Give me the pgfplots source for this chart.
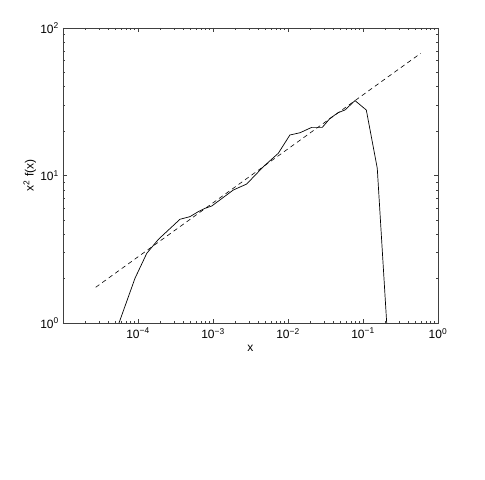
\documentclass[border=0pt]{standalone}
\usepackage{fontspec}
\setmainfont{Liberation Sans}
\usepackage{pgfplots}
\pgfplotsset{compat=1.18}
\begin{document}
\fontsize{12bp}{14bp}\selectfont
\begin{tikzpicture}
\begin{loglogaxis}[
  scale only axis,
  width=375bp, height=295bp,
  at={(0,0)}, anchor=south west,
  xmin=1e-5, xmax=1,
  ymin=1, ymax=100,
  axis line style={black!75, line width=0.6pt},
  every tick/.style={black!75, line width=0.5pt},
  major tick length=4.5bp, minor tick length=2.5bp,
  tick align=inside,
  xtick={1e-5,1e-4,1e-3,1e-2,1e-1,1},
  xticklabels={{},{10\textsuperscript{−4}},{10\textsuperscript{−3}},{10\textsuperscript{−2}},{10\textsuperscript{−1}},{10\textsuperscript{0}}},
  ytick={1,10,100},
  yticklabels={{10\textsuperscript{0}},{10\textsuperscript{1}},{10\textsuperscript{2}}},
  ticklabel style={font=\fontsize{12bp}{14bp}\selectfont},
  xticklabel style={yshift=-1bp},
  yticklabel style={xshift=0bp},
  xlabel={x},
  ylabel={x\textsuperscript{2} f(x)},
  label style={font=\fontsize{12bp}{14bp}\selectfont},
  xlabel style={yshift=2bp},
  ylabel style={yshift=-4bp},
]
\addplot[black, line width=0.7pt] coordinates {
(5.58e-5,1.0) (9.12e-5,2.01) (1.31e-4,2.97) (1.87e-4,3.69) (3.63e-4,5.05)
(4.93e-4,5.26) (6.37e-4,5.69) (7.82e-4,5.99) (9.62e-4,6.21) (1.87e-3,7.98)
(2.81e-3,8.75) (4.69e-3,11.47) (7.43e-3,14.15) (1.06e-2,18.82) (1.45e-2,19.5)
(2.07e-2,21.2) (2.87e-2,21.2) (3.63e-2,24.4) (4.69e-2,26.7) (5.75e-2,27.8)
(7.82e-2,32.2) (0.1107,27.8) (0.155,11.2) (0.207,1.0)
};
\addplot[black, line width=0.6pt, dash pattern=on 4.5bp off 3.5bp] coordinates {
(2.73e-5,1.746) (0.587,67.3)
};
\end{loglogaxis}
\path (-63bp,-157bp) (422bp,323bp);
\end{tikzpicture}
\end{document}
